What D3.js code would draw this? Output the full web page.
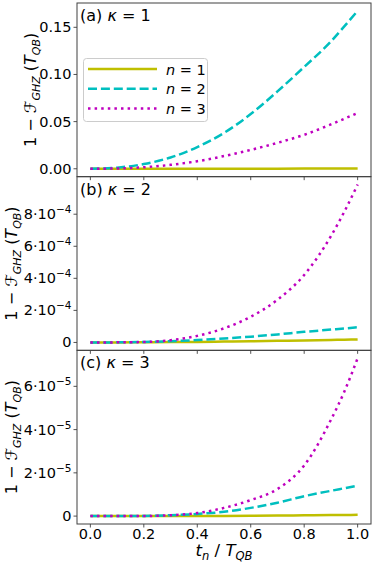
<!DOCTYPE html>
<html>
<head>
<meta charset="utf-8">
<script src="https://cdn.jsdelivr.net/npm/d3@7"></script>
<style>
  body { margin: 0; background: #fff; }
  text { font-family: 'DejaVu Sans', sans-serif; fill: #000; }
</style>
</head>
<body>
<div class="canvas"></div>
<script>
// sample times t_n / T_QB
const tValues = [0, 0.1, 0.2, 0.3, 0.4, 0.5, 0.6, 0.7, 0.8, 0.9, 0.95, 1.0];

// kappa = 1 (plain units)
const k1n1 = [0, 0, 0.00001, 0.00002, 0.00004, 0.00006, 0.00009, 0.00012, 0.00016, 0.0002, 0.00023, 0.00025];
const k1n2 = [0, 0.0012, 0.005, 0.012, 0.023, 0.038, 0.058, 0.082, 0.108, 0.135, 0.151, 0.1674];
const k1n3 = [0, 0.0003, 0.0016, 0.0042, 0.008, 0.0135, 0.02, 0.0275, 0.036, 0.047, 0.053, 0.0592];

// kappa = 2 (units of 1e-4)
const k2n1 = [0, 0.001, 0.01, 0.02, 0.035, 0.055, 0.075, 0.1, 0.125, 0.155, 0.172, 0.19];
const k2n2 = [0, 0.005, 0.03, 0.08, 0.15, 0.25, 0.36, 0.5, 0.66, 0.8, 0.87, 0.95];
const k2n3 = [0, 0.005, 0.03, 0.14, 0.41, 0.88, 1.6, 2.66, 4.21, 6.63, 8.15, 9.85];

// kappa = 3 (units of 1e-5)
const k3n1 = [0, 0, 0.001, 0.003, 0.005, 0.009, 0.015, 0.024, 0.035, 0.046, 0.053, 0.06];
const k3n2 = [0, 0, 0.01, 0.04, 0.1, 0.2, 0.38, 0.62, 0.92, 1.17, 1.29, 1.41];
const k3n3 = [0, 0, 0.005, 0.04, 0.14, 0.38, 0.74, 1.25, 2.34, 4.45, 5.75, 7.3];

const panelTitles = ['(a)', '(b)', '(c)'];
const kappas = ['1', '2', '3'];
const units = [1, 1e-4, 1e-5];
const exponents = [null, '\u22124', '\u22125'];
const yTicksA = [0, 0.05, 0.1, 0.15];
const yTicksB = [0, 2, 4, 6, 8];
const yTicksC = [0, 2, 4, 6];
const xTicks = [0, 0.2, 0.4, 0.6, 0.8, 1.0];
const seriesNames = ['n = 1', 'n = 2', 'n = 3'];

const panelData = [[k1n1, k1n2, k1n3], [k2n1, k2n2, k2n3], [k3n1, k3n2, k3n3]];
const panelTicks = [yTicksA, yTicksB, yTicksC];

const colors = ['#bfbf00', '#00bfbf', '#bf00bf'];
const dashes = [null, '9,3.9', '2.5,4.1'];
const lw = 2.5;

const width = 374, height = 564;
const plotLeft = 77, plotRight = 371, plotTop = 3, plotBottom = 524;
const panelH = (plotBottom - plotTop) / 3;

const svg = d3.select('.canvas').append('svg').attr('width', width).attr('height', height);

const x = d3.scaleLinear().domain([-0.05, 1.05]).range([plotLeft, plotRight]);

const line = d3.line().curve(d3.curveMonotoneX);

panelData.forEach((series, p) => {
  const y0 = plotTop + p * panelH;
  const y1 = y0 + panelH;
  const unit = units[p];
  const maxV = d3.max(series.flat()) * unit;
  const minV = d3.min(series.flat()) * unit;
  const pad = (maxV - minV) * 0.05;
  const y = d3.scaleLinear().domain([minV - pad, maxV + pad]).range([y1, y0]);

  const g = svg.append('g');

  // clip to plot area
  const clipId = 'clip' + p;
  g.append('clipPath').attr('id', clipId)
    .append('rect').attr('x', plotLeft).attr('y', y0).attr('width', plotRight - plotLeft).attr('height', panelH);

  const lines = g.append('g').attr('clip-path', 'url(#' + clipId + ')');
  series.forEach((vals, i) => {
    const pts = tValues.map((t, j) => [x(t), y(vals[j] * unit)]);
    lines.append('path')
      .attr('d', line(pts))
      .attr('fill', 'none')
      .attr('stroke', colors[i])
      .attr('stroke-width', lw)
      .attr('stroke-dasharray', dashes[i]);
  });

  // frame
  g.append('rect')
    .attr('x', plotLeft).attr('y', y0)
    .attr('width', plotRight - plotLeft).attr('height', panelH)
    .attr('fill', 'none').attr('stroke', '#404040').attr('stroke-width', 1);

  // y ticks
  panelTicks[p].forEach(v => {
    const yy = y(v * unit);
    g.append('line').attr('x1', plotLeft - 3.5).attr('x2', plotLeft).attr('y1', yy).attr('y2', yy)
      .attr('stroke', '#404040').attr('stroke-width', 0.9);
    const lab = g.append('text')
      .attr('x', plotLeft - 5.5).attr('y', yy + 5)
      .attr('text-anchor', 'end')
      .style('font-size', '14.5px');
    if (exponents[p] === null) {
      lab.text(d3.format('.2f')(v));
    } else if (v === 0) {
      lab.text('0');
    } else {
      lab.append('tspan').text(v + '\u00b710');
      lab.append('tspan').attr('dy', -6).style('font-size', '10.5px').text(exponents[p]);
    }
  });

  // x ticks at bottom of each panel
  xTicks.forEach(t => {
    g.append('line').attr('x1', x(t)).attr('x2', x(t)).attr('y1', y1).attr('y2', y1 + 3.5)
      .attr('stroke', '#404040').attr('stroke-width', 0.9);
    if (p === 2) {
      g.append('text').attr('x', x(t)).attr('y', y1 + 14.5)
        .attr('text-anchor', 'middle').style('font-size', '14.5px')
        .text(d3.format('.1f')(t));
    }
  });

  // panel title
  const title = g.append('text').attr('x', 80).attr('y', y0 + 18).style('font-size', '16px');
  title.append('tspan').text(panelTitles[p] + ' ');
  title.append('tspan').style('font-style', 'italic').text('\u03ba');
  title.append('tspan').text(' = ' + kappas[p]);

  // y label
  const lx = p === 0 ? 36 : 17;
  const ylab = g.append('text')
    .attr('transform', 'translate(' + lx + ',' + (y0 + panelH / 2) + ') rotate(-90)')
    .attr('text-anchor', 'middle')
    .style('font-size', '16px');
  ylab.append('tspan').text('1 \u2212 ');
  ylab.append('tspan').style('font-style', 'italic').text('\u2131');
  ylab.append('tspan').attr('dy', 3.5).style('font-size', '11px').style('font-style', 'italic').text('GHZ');
  ylab.append('tspan').attr('dy', -3.5).text(' (');
  ylab.append('tspan').style('font-style', 'italic').text('T');
  ylab.append('tspan').attr('dy', 3.5).style('font-size', '11px').style('font-style', 'italic').text('QB');
  ylab.append('tspan').attr('dy', -3.5).text(')');
});

// legend in panel (a)
const legend = svg.append('g');
legend.append('rect')
  .attr('x', 83.5).attr('y', 58.5).attr('width', 124).attr('height', 63).attr('rx', 3)
  .attr('fill', 'rgba(255,255,255,0.8)').attr('stroke', '#cccccc').attr('stroke-width', 1);
seriesNames.forEach((name, i) => {
  const ly = 69 + i * 19.7;
  legend.append('line')
    .attr('x1', 88).attr('x2', 157).attr('y1', ly).attr('y2', ly)
    .attr('stroke', colors[i]).attr('stroke-width', lw)
    .attr('stroke-dasharray', dashes[i]);
  const lt = legend.append('text').attr('x', 166).attr('y', ly + 5.5).style('font-size', '14.5px');
  lt.append('tspan').style('font-style', 'italic').text('n');
  lt.append('tspan').text(name.slice(1));
});

// x label
const xlab = svg.append('text')
  .attr('x', (plotLeft + plotRight) / 2).attr('y', 556)
  .attr('text-anchor', 'middle').style('font-size', '16.5px');
xlab.append('tspan').style('font-style', 'italic').text('t');
xlab.append('tspan').attr('dy', 3.5).style('font-size', '11.5px').style('font-style', 'italic').text('n');
xlab.append('tspan').attr('dy', -3.5).text(' / ');
xlab.append('tspan').style('font-style', 'italic').text('T');
xlab.append('tspan').attr('dy', 3.5).style('font-size', '11.5px').style('font-style', 'italic').text('QB');
</script>
</body>
</html>
